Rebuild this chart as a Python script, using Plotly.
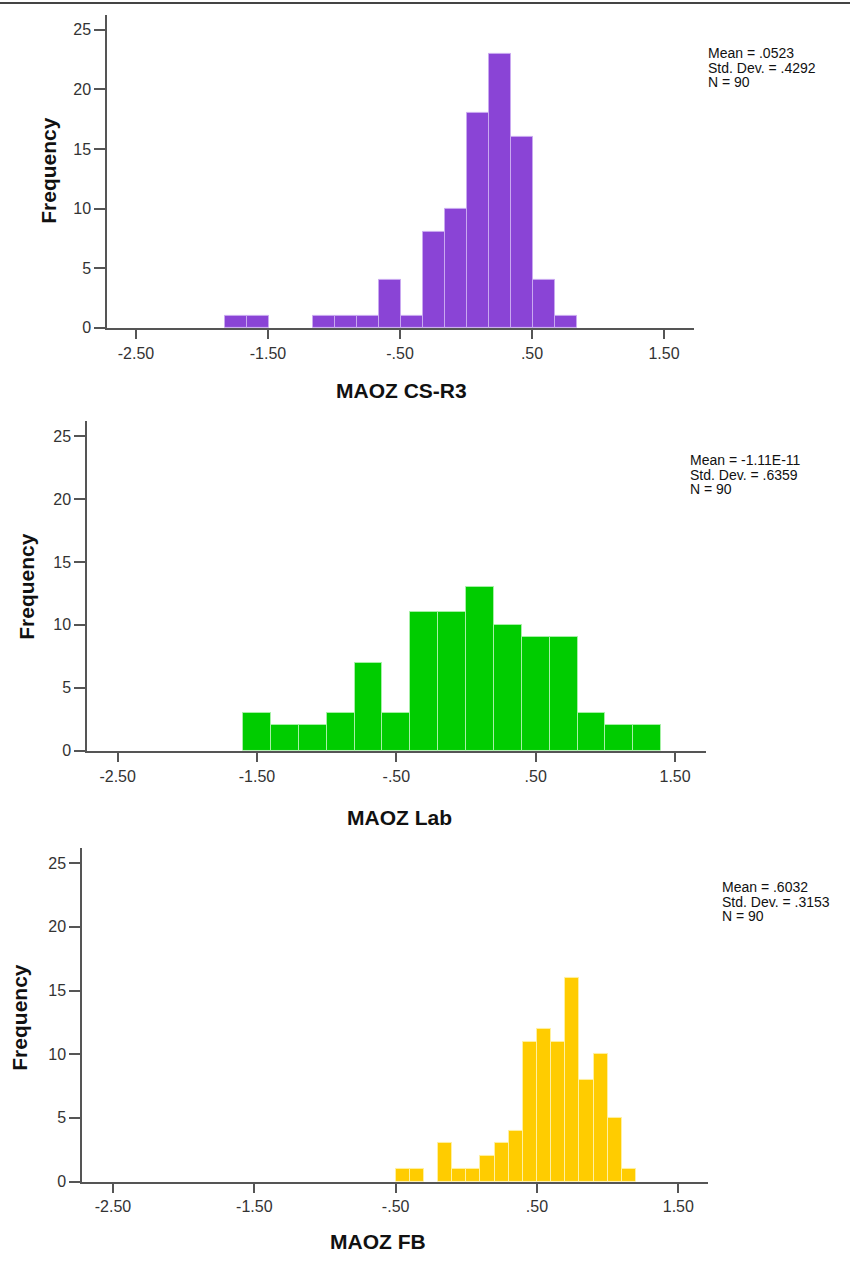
import plotly.graph_objects as go

W, H = 850, 1265

# ---------------- data ----------------
cs_bin_start = -1.826
cs_bin_width = 0.1665
cs_counts = [1, 1, 0, 0, 1, 1, 1, 4, 1, 8, 10, 18, 23, 16, 4, 1]

lab_bin_start = -1.6
lab_bin_width = 0.2
lab_counts = [3, 2, 2, 3, 7, 3, 11, 11, 13, 10, 9, 9, 3, 2, 2]

fb_bin_start = -0.5
fb_bin_width = 0.1
fb_counts = [1, 1, 0, 3, 1, 1, 2, 3, 4, 11, 12, 11, 16, 8, 10, 5, 1]

x_tick_vals = [-2.5, -1.5, -0.5, 0.5, 1.5]
x_tick_text = ["-2.50", "-1.50", "-.50", ".50", "1.50"]
y_tick_vals = [0, 5, 10, 15, 20, 25]

titles = ["MAOZ CS-R3", "MAOZ Lab", "MAOZ FB"]
stats = [
    ["Mean = .0523", "Std. Dev. = .4292", "N = 90"],
    ["Mean = -1.11E-11", "Std. Dev. = .6359", "N = 90"],
    ["Mean = .6032", "Std. Dev. = .3153", "N = 90"],
]
colors = ["#8a44d6", "#00cc00", "#ffcc00"]
outline = ["#c9a8f0", "#a6f0a6", "#fff0a0"]

# ---------------- layout geometry (pixels) ----------------
panels = [
    dict(x0=107, x1=694, ytop=15, ybot=330, xr=[-2.7197, 1.727], ytopval=26.25,
         xt=(401, 393), yt=(49, 172), st=(706, 53)),
    dict(x0=87, x1=706, ytop=424, ybot=756, xr=[-2.72, 1.722], ytopval=26.2,
         xt=(399, 823), yt=(27, 590), st=(688, 463)),
    dict(x0=82, x1=708, ytop=854, ybot=1190, xr=[-2.719, 1.71], ytopval=26.2,
         xt=(378, 1250), yt=(20, 1025), st=(720, 893)),
]

def px(x):
    return x / W

def py(y):
    return 1 - y / H

data_sets = [
    (cs_bin_start, cs_bin_width, cs_counts),
    (lab_bin_start, lab_bin_width, lab_counts),
    (fb_bin_start, fb_bin_width, fb_counts),
]

fig = go.Figure()
font_fam = "Liberation Sans, Arial, sans-serif"
annotations = []

for i, (p, (b0, bw, counts)) in enumerate(zip(panels, data_sets)):
    n = i + 1
    xa = "x" if n == 1 else f"x{n}"
    ya = "y" if n == 1 else f"y{n}"
    centers = [b0 + bw * (k + 0.5) for k in range(len(counts))]
    yvals = [c if c > 0 else None for c in counts]
    fig.add_trace(go.Bar(
        x=centers, y=yvals, width=bw,
        marker=dict(color=colors[i], line=dict(color=outline[i], width=1)),
        xaxis=xa, yaxis=ya, showlegend=False, hoverinfo="x+y",
    ))
    axis_common = dict(showgrid=False, zeroline=False, showline=True,
                       linecolor="#555555", linewidth=1.5,
                       ticks="outside", tickcolor="#555555", tickwidth=1.5,
                       tickfont=dict(family=font_fam, size=16, color="#333333"))
    fig.update_layout(**{
        ("xaxis" if n == 1 else f"xaxis{n}"): dict(
            domain=[px(p["x0"]), px(p["x1"])], range=p["xr"], anchor=ya,
            tickvals=x_tick_vals, ticktext=x_tick_text, ticklen=10,
            layer="below traces", **axis_common),
        ("yaxis" if n == 1 else f"yaxis{n}"): dict(
            domain=[py(p["ybot"]), py(p["ytop"])], range=[0, p["ytopval"]],
            anchor=xa, tickvals=y_tick_vals, ticklen=11,
            layer="below traces", **axis_common),
    })
    annotations.append(dict(
        text=f"<b>{titles[i]}</b>", x=px(p["xt"][0]), y=py(p["xt"][1]),
        xref="paper", yref="paper", xanchor="center", yanchor="middle",
        showarrow=False, font=dict(family=font_fam, size=21, color="#111111")))
    annotations.append(dict(
        text="<b>Frequency</b>", x=px(p["yt"][0]), y=py(p["yt"][1]),
        xref="paper", yref="paper", xanchor="center", yanchor="middle",
        textangle=-90, showarrow=False,
        font=dict(family=font_fam, size=21, color="#111111")))
    for j, line in enumerate(stats[i]):
        annotations.append(dict(
            text=line, x=px(p["st"][0]), y=py(p["st"][1] + 15 * j),
            xref="paper", yref="paper", xanchor="left", yanchor="middle",
            showarrow=False, font=dict(family=font_fam, size=14, color="#111111")))

fig.update_layout(
    width=W, height=H, margin=dict(l=0, r=0, t=0, b=0),
    paper_bgcolor="white", plot_bgcolor="white",
    bargap=0, annotations=annotations,
    shapes=[dict(type="line", xref="paper", yref="paper", x0=0, x1=1,
                 y0=py(3), y1=py(3), line=dict(color="#444444", width=2))],
)

fig.write_html("out.html")
